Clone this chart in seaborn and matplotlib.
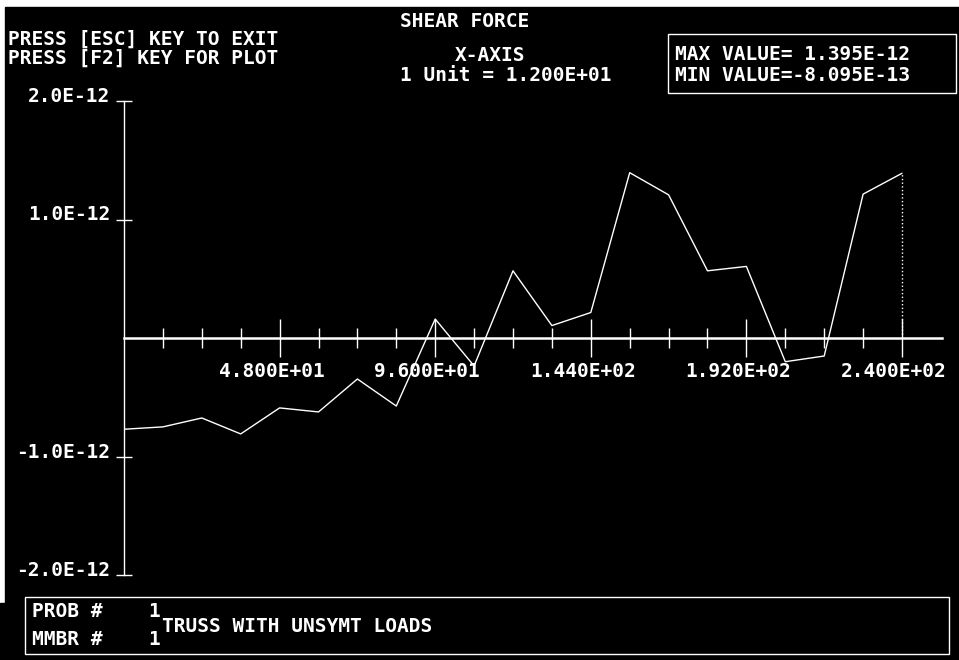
import matplotlib
matplotlib.use('Agg')
import matplotlib.pyplot as plt
import matplotlib.transforms as mtransforms
from matplotlib.patches import Rectangle
import seaborn as sns

# stations along the member and shear force there (x 1e-12)
stations = [0, 12, 24, 36, 48, 60, 72, 84, 96, 108, 120,
            132, 144, 156, 168, 180, 192, 204, 216, 228, 240]
shear = [-0.77, -0.75, -0.675, -0.8095, -0.59, -0.624, -0.346, -0.574, 0.16, -0.236, 0.567,
         0.105, 0.215, 1.395, 1.208, 0.567, 0.604, -0.20, -0.152, 1.214, 1.39]
shear = [v * 1e-12 for v in shear]

x_major = [48, 96, 144, 192, 240]
x_minor = [12, 24, 36, 60, 72, 84, 108, 120, 132, 156, 168, 180, 204, 216, 228]
x_labels = ['4.800E+01', '9.600E+01', '1.440E+02', '1.920E+02', '2.400E+02']
y_ticks = [2e-12, 1e-12, -1e-12, -2e-12]
y_labels = ['2.0E-12', '1.0E-12', '-1.0E-12', '-2.0E-12']

sns.set_style('dark')
plt.rcParams['font.family'] = ['DejaVu Sans Mono']
font = dict(color='white', fontsize=14, fontweight='bold', family='DejaVu Sans Mono')

W, H = 959, 660
fig = plt.figure(figsize=(W / 100, H / 100), dpi=100, facecolor='white')

# screen background, in pixel coordinates
bg = fig.add_axes([0, 0, 1, 1])
bg.set_xlim(0, W)
bg.set_ylim(H, 0)
bg.axis('off')
bg.add_patch(Rectangle((5, 7), W - 5, H - 7, color='black', zorder=0))
bg.add_patch(Rectangle((0, 603), 6, H - 603, color='black', zorder=0))

bg.text(8, 45, 'PRESS [ESC] KEY TO EXIT', va='baseline', **font)
bg.text(8, 64, 'PRESS [F2] KEY FOR PLOT', va='baseline', **font)
bg.text(400, 27, 'SHEAR FORCE', va='baseline', **font)
bg.text(490, 61, 'X-AXIS', ha='center', va='baseline', **font)
bg.text(400, 81, '1 Unit = 1.200E+01', va='baseline', **font)

bg.add_patch(Rectangle((668, 34), 288, 59, fill=False, ec='white', lw=1))
bg.text(675, 60, 'MAX VALUE= 1.395E-12', va='baseline', **font)
bg.text(675, 81, 'MIN VALUE=-8.095E-13', va='baseline', **font)

bg.add_patch(Rectangle((25, 597), 924, 57, fill=False, ec='white', lw=1))
bg.text(32, 617, 'PROB #', va='baseline', **font)
bg.text(32, 645, 'MMBR #', va='baseline', **font)
bg.text(148, 617, '1', va='baseline', **font)
bg.text(148, 645, '1', va='baseline', **font)
bg.text(162, 632, 'TRUSS WITH UNSYMT LOADS', va='baseline', **font)

# plot area: x=0 at px 124, x=240 at px 902, axis runs on to px 942
x0, x1, y_top, y_bot = 124, 942, 101, 575
ax = fig.add_axes([x0 / W, 1 - y_bot / H, (x1 - x0) / W, (y_bot - y_top) / H])
ax.set_facecolor('none')
ax.set_xlim(0, 240 * (x1 - x0) / (902 - x0))
ax.set_ylim(-2e-12, 2e-12)

sns.lineplot(x=stations, y=shear, ax=ax, color='white', linewidth=1)
ax.vlines(stations[-1], 0, shear[-1], color='white', linewidth=1, linestyles=':')

for side in ['top', 'right']:
    ax.spines[side].set_visible(False)
ax.spines['bottom'].set_position(('data', 0))
ax.spines['bottom'].set_color('white')
ax.spines['bottom'].set_linewidth(1.8)
ax.spines['left'].set_color('white')
ax.spines['left'].set_linewidth(1)

ax.set_xticks(x_major)
ax.set_xticks(x_minor, minor=True)
ax.set_yticks(y_ticks)
ax.tick_params(axis='x', which='major', bottom=True, direction='inout', length=28, width=1,
               color='white', labelbottom=False)
ax.tick_params(axis='x', which='minor', bottom=True, direction='inout', length=15, width=1,
               color='white')
ax.tick_params(axis='y', left=True, direction='inout', length=11.5, width=1, color='white',
               labelleft=False)
ax.grid(False)
ax.set_xlabel('')
ax.set_ylabel('')

xoff = ax.transData + mtransforms.ScaledTranslation(-8 / 100, -39 / 100, fig.dpi_scale_trans)
for pos, lab in zip(x_major, x_labels):
    ax.text(pos, 0, lab, transform=xoff, ha='center', va='baseline', **font)

yoff = ax.transData + mtransforms.ScaledTranslation(-14 / 100, -1 / 100, fig.dpi_scale_trans)
for val, lab in zip(y_ticks, y_labels):
    ax.text(0, val, lab, transform=yoff, ha='right', va='baseline', **font)

fig.savefig('out.png', dpi=100, facecolor='white')
